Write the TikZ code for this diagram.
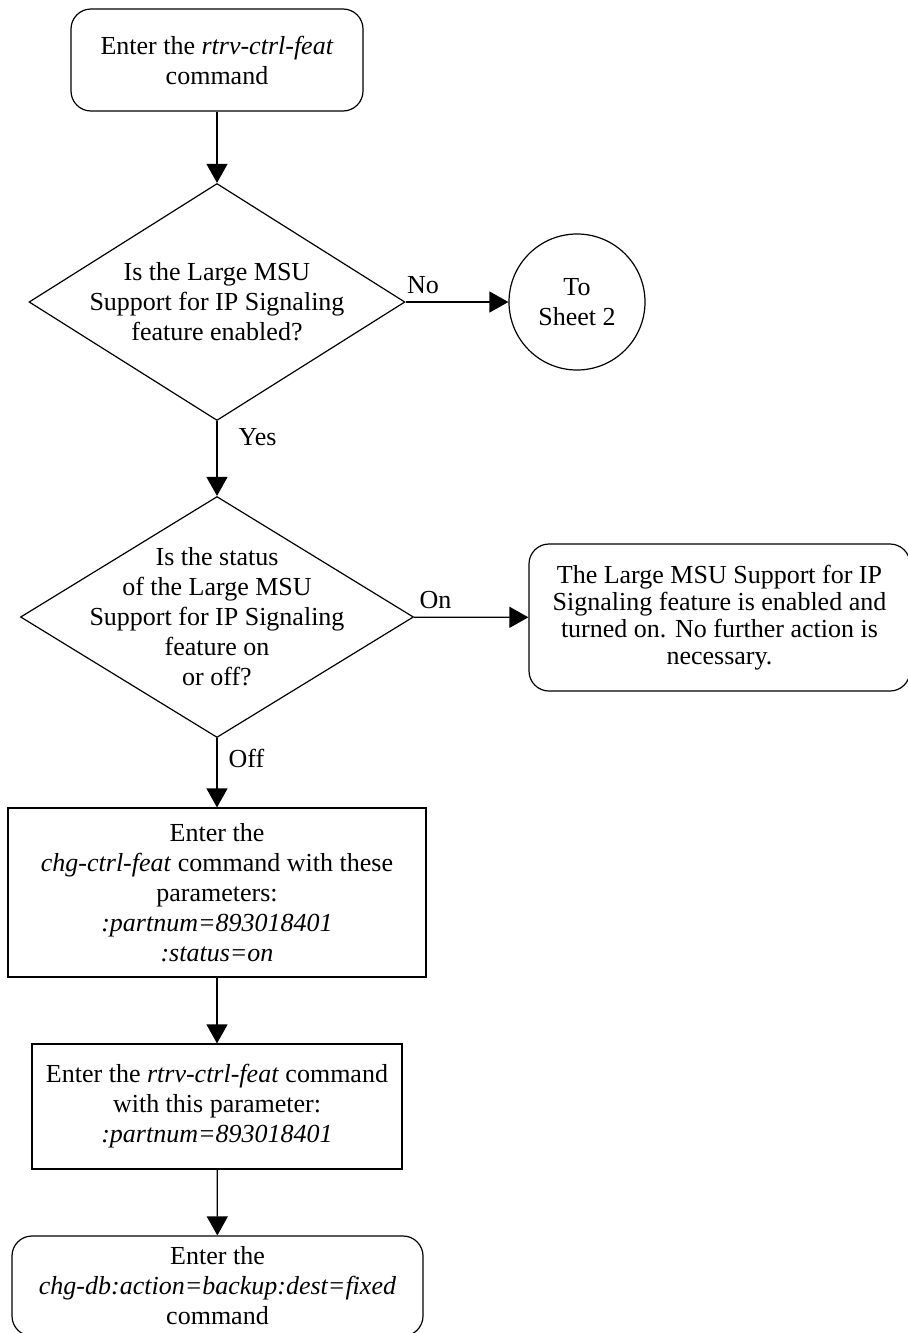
\documentclass[tikz,border=0pt]{standalone}
\usepackage{fontspec}
\setmainfont{Liberation Serif}
\usetikzlibrary{shapes.geometric, positioning}
\usetikzlibrary{arrows.meta}

\tikzset{
  base/.style={draw, line width=0.6pt, align=center, inner sep=0pt,
    font=\fontsize{13}{15}\selectfont},
  startstop/.style={base, rectangle, rounded corners=10pt},
  process/.style={base, rectangle},
  decision/.style={base, diamond},
  offpage/.style={base, circle},
  flow/.style={line width=0.6pt, -{Triangle[length=9.5pt,width=10.5pt]}},
  edgetext/.style={inner sep=0pt, font=\fontsize{13}{15}\selectfont},
}

\begin{document}
\begin{tikzpicture}[x=0.5pt, y=-0.5pt]
\useasboundingbox (0,0) rectangle (908,1333);

% Main column
\node[startstop, minimum width=146pt, minimum height=51pt] (start) at (217,60)
  {Enter the \textit{rtrv-ctrl-feat}\\command};
\node[decision, minimum width=188pt, minimum height=118.5pt,
  label={[edgetext, align=center]center:{Is the Large MSU\\Support for IP Signaling\\feature enabled?}}]
  (enabled) at (217,302) {};
\node[decision, minimum width=196.5pt, minimum height=120.5pt,
  label={[edgetext, align=center]center:{Is the status\\of the Large MSU\\Support for IP Signaling\\feature on\\or off?}}]
  (status) at (217,617) {};
\node[process, minimum width=209pt, minimum height=84.5pt] (chgfeat) at (217,892.5)
  {Enter the\\\textit{chg-ctrl-feat} command with these\\parameters:\\\textit{:partnum=893018401}\\\textit{:status=on}};
\node[process, minimum width=185pt, minimum height=62.5pt] (rtrvfeat) at (217,1106.5)
  {Enter the \textit{rtrv-ctrl-feat} command\\with this parameter:\\\textit{:partnum=893018401}};
\node[startstop, minimum width=205.5pt, minimum height=50pt] (backup) at (217.5,1286)
  {Enter the\\\textit{chg-db:action=backup:dest=fixed}\\command};

% Side exits
\node[offpage, minimum size=68pt] (sheet2) at (577,302) {To\\Sheet 2};
\node[startstop, minimum width=190.5pt, minimum height=73.5pt,
  font=\fontsize{13}{13.5}\selectfont] (done) at (719.5,617.5)
  {The Large MSU Support for IP\\Signaling feature is enabled and\\turned on. No further action is\\necessary.};

% Connectors
\draw[flow] (start) -- (enabled);
\draw[flow] (enabled) -- node[edgetext, pos=0.17, above=4pt] {No} (sheet2);
\draw[flow] (enabled) -- node[edgetext, pos=0.22, right=10.5pt] {Yes} (status);
\draw[flow] (status) -- node[edgetext, pos=0.19, above=4pt] {On} (done);
\draw[flow] (status) -- node[edgetext, pos=0.29, right=5.5pt] {Off} (chgfeat);
\draw[flow] (chgfeat) -- (rtrvfeat);
\draw[flow] (rtrvfeat) -- (backup);
\end{tikzpicture}
\end{document}
